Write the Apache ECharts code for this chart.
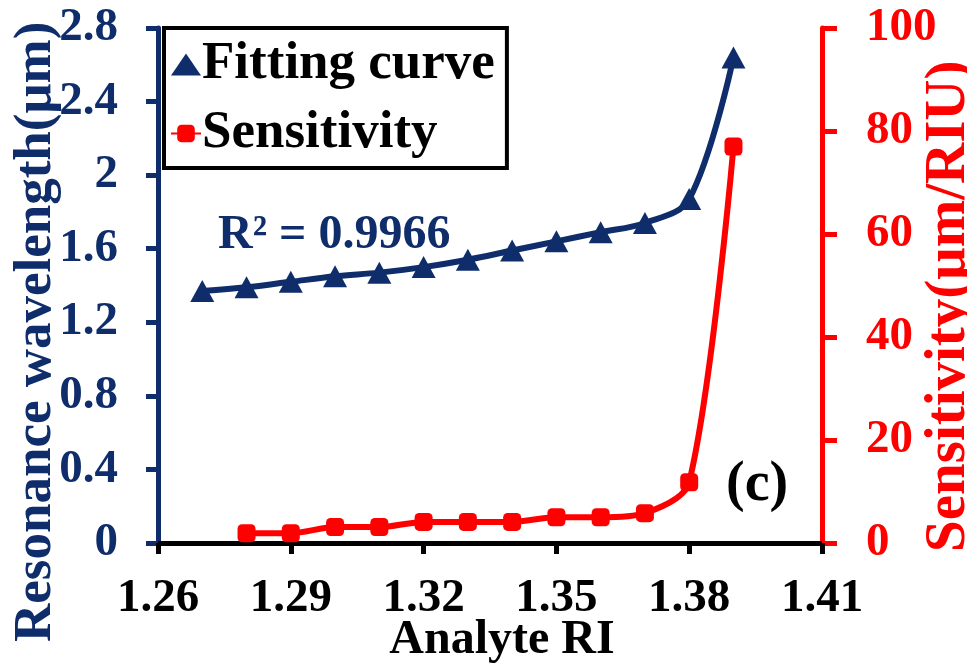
<!DOCTYPE html>
<html><head><meta charset="utf-8">
<script src="https://cdn.jsdelivr.net/npm/echarts@6/dist/echarts.min.js"></script>
<style>html,body{margin:0;padding:0;background:#fff}#c{width:967px;height:664px}</style>
</head><body><div id="c"></div>
<script>
const riFit = [1.27,1.28,1.29,1.30,1.31,1.32,1.33,1.34,1.35,1.36,1.37,1.38,1.39];
const wavelength = [1.37,1.39,1.42,1.45,1.47,1.50,1.54,1.59,1.64,1.69,1.74,1.87,2.64];
const riSens = [1.28,1.29,1.30,1.31,1.32,1.33,1.34,1.35,1.36,1.37,1.38,1.39];
const sensitivity = [1.9,1.9,3.1,3.1,4.1,4.1,4.1,5.0,5.0,5.8,11.8,77];
const xTicks = {min:1.26, max:1.41, interval:0.03};
const yLeftTicks = {min:0, max:2.8, interval:0.4};
const yRightTicks = {min:0, max:100, interval:20};

const NAVY = '#0f2d6b', RED = '#ff0000', FONT = '"Liberation Serif","Times New Roman",serif';
const chart = echarts.init(document.getElementById('c'), null, {renderer:'canvas'});
chart.setOption({
  animation:false,
  backgroundColor:'#fff',
  grid:{left:158, right:145, top:28, bottom:121, containLabel:false, outerBoundsMode:'none'},
  legend:{
    orient:'vertical', left:164, top:28,
    backgroundColor:'#fff', borderColor:'#000', borderWidth:4,
    padding:[10,12,8,6], itemGap:16, itemWidth:30, itemHeight:22,
    textStyle:{fontFamily:FONT, fontWeight:'bold', fontSize:53, color:'#000', padding:[0,0,0,-4]},
    data:[{name:'Fitting curve', icon:'triangle'}, {name:'Sensitivity'}]
  },
  xAxis:[{
    type:'value', min:xTicks.min, max:xTicks.max, interval:xTicks.interval,
    name:'Analyte RI', nameLocation:'middle', nameGap:74, nameMoveOverlap:false,
    nameTextStyle:{fontFamily:FONT, fontWeight:'bold', fontSize:48, color:'#000', verticalAlign:'top', padding:[0,0,0,24]},
    axisLine:{lineStyle:{color:'#000', width:5}},
    axisTick:{show:true, length:11, lineStyle:{color:'#000', width:5}},
    axisLabel:{fontFamily:FONT, fontWeight:'bold', fontSize:47, color:'#000', margin:32},
    splitLine:{show:false}
  },{
    type:'value', position:'top', min:xTicks.min, max:xTicks.max, interval:xTicks.interval,
    axisLine:{lineStyle:{color:'#000', width:4}}, axisTick:{show:false}, axisLabel:{show:false}, splitLine:{show:false}
  }],
  yAxis:[{
    type:'value', position:'left', min:yLeftTicks.min, max:yLeftTicks.max, interval:yLeftTicks.interval,
    axisLine:{show:true, lineStyle:{color:NAVY, width:5}},
    axisTick:{show:true, length:12, lineStyle:{color:NAVY, width:5}},
    axisLabel:{fontFamily:FONT, fontWeight:'bold', fontSize:47, color:NAVY, margin:40},
    splitLine:{show:false}
  },{
    type:'value', position:'right', min:yRightTicks.min, max:yRightTicks.max, interval:yRightTicks.interval,
    axisLine:{show:true, lineStyle:{color:RED, width:5}},
    axisTick:{show:true, length:15, lineStyle:{color:RED, width:5}},
    axisLabel:{fontFamily:FONT, fontWeight:'bold', fontSize:47, color:RED, margin:44},
    splitLine:{show:false}
  }],
  graphic:[
    {type:'text', rotation:Math.PI/2, x:10, y:642,
     style:{text:'Resonance wavelength(μm)', font:'bold 53px '+FONT, fill:NAVY, textVerticalAlign:'top'}},
    {type:'text', rotation:Math.PI/2, x:921, y:552,
     style:{text:'Sensitivity(μm/RIU)', font:'bold 57px '+FONT, fill:RED, textVerticalAlign:'top'}},
    {type:'text', x:218, y:212, style:{text:'R² = 0.9966', font:'bold 48px '+FONT, fill:NAVY}},
    {type:'text', x:726, y:458, style:{text:'(c)', font:'bold 56px '+FONT, fill:'#000'}}
  ],
  series:[{
    name:'Fitting curve', type:'line', xAxisIndex:0, yAxisIndex:0, smooth:0.35,
    data: riFit.map((x,i)=>[x, wavelength[i]]),
    symbol:'triangle', symbolSize:[24,22], itemStyle:{color:NAVY},
    lineStyle:{color:NAVY, width:6}
  },{
    name:'Sensitivity', type:'line', xAxisIndex:0, yAxisIndex:1, smooth:0.3,
    data: riSens.map((x,i)=>[x, sensitivity[i]]),
    symbol:'roundRect', symbolSize:18, itemStyle:{color:RED},
    lineStyle:{color:RED, width:6}
  }]
});
</script></body></html>
